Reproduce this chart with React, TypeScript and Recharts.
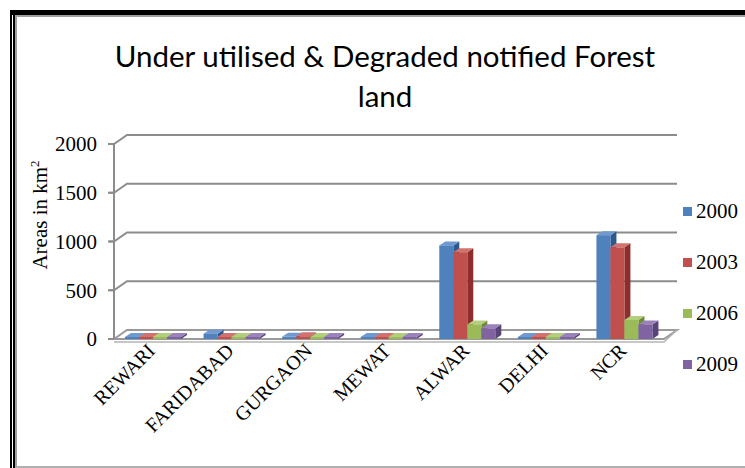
import { Bar, BarChart, CartesianGrid, XAxis, YAxis } from "recharts";

const districts = ["REWARI", "FARIDABAD", "GURGAON", "MEWAT", "ALWAR", "DELHI", "NCR"];
const years = ["2000", "2003", "2006", "2009"];
const y2000 = [6, 55, 22, 0, 960, 10, 1065];
const y2003 = [6, 8, 28, 0, 890, 10, 940];
const y2006 = [5, 5, 10, 18, 150, 6, 195];
const y2009 = [5, 5, 8, 18, 110, 5, 150];
const yTicks = [0, 500, 1000, 1500, 2000];

const COLORS = ["#4F81BD", "#C0504D", "#9BBB59", "#8064A2"];
const SIDE = ["#2C5A8F", "#8C2E2B", "#6E8C36", "#574478"];
const TOP = ["#6F99CF", "#D2726F", "#B3CE7C", "#9A82BA"];

const data = districts.map((d, i) => ({
  name: d,
  "2000": y2000[i],
  "2003": y2003[i],
  "2006": y2006[i],
  "2009": y2009[i],
}));

const SERIF = "'Liberation Serif', 'Times New Roman', serif";
const DX = 6;
const DY = -4;

function Box3D(idx: number) {
  return (props: any) => {
    const { x, y, width, height } = props;
    if (width == null) return null;
    const h = Math.max(height, 2);
    const top = y + height - h;
    return (
      <g>
        <path
          d={`M${x + width},${top} L${x + width + DX},${top + DY} L${x + width + DX},${top + h + DY} L${x + width},${top + h} Z`}
          fill={SIDE[idx]}
        />
        <path
          d={`M${x},${top} L${x + DX},${top + DY} L${x + width + DX},${top + DY} L${x + width},${top} Z`}
          fill={TOP[idx]}
        />
        <rect x={x} y={top} width={width} height={h} fill={COLORS[idx]} />
      </g>
    );
  };
}

// back-wall gridlines, offset to look like the 3D chart
const WX = 13;
const WY = -9;
function GridLine(props: any) {
  const { x1, x2, y1, index } = props;
  const d = `M${x1 - 5},${y1} L${x1},${y1} L${x1 + WX},${y1 + WY} L${x2 + WX},${y1 + WY}`;
  if (y1 > 330) {
    return (
      <g key={`g-${index}`}>
        <path
          d={`M${x1},${y1} L${x1 + WX},${y1 + WY} L${x2 + WX},${y1 + WY} L${x2},${y1} Z`}
          fill="#fff"
          stroke="#9a9a9a"
          strokeWidth={2}
        />
        <path d={`M${x1},${y1 + 3} L${x2},${y1 + 3} L${x2 + WX},${y1 + WY}`} fill="none" stroke="#b5b5b5" strokeWidth={1.5} />
      </g>
    );
  }
  return <path key={`g-${index}`} d={d} fill="none" stroke="#8c8c8c" strokeWidth={2} />;
}

function XTick(props: any) {
  const { x, y, payload } = props;
  return (
    <text
      x={x + 3}
      y={y + 5}
      transform={`rotate(-45 ${x + 3} ${y + 5})`}
      textAnchor="end"
      fontFamily={SERIF}
      fontSize={20}
      fill="#000"
    >
      {payload.value}
    </text>
  );
}

export default function App() {
  return (
    <div style={{ position: "absolute", left: 0, top: 0, width: 745, height: 468, background: "#fff" }}>
      <div style={{ position: "absolute", left: 10, top: 10, width: 735, height: 5, background: "#000" }} />
      <div style={{ position: "absolute", left: 10, top: 10, width: 2, height: 458, background: "#000" }} />
      <div style={{ position: "absolute", left: 13, top: 10, width: 2, height: 458, background: "#000" }} />
      <div style={{ position: "absolute", left: 15, top: 15, width: 730, height: 2, background: "#a0a0a0" }} />
      <div style={{ position: "absolute", left: 15, top: 15, width: 2, height: 453, background: "#a0a0a0" }} />
      <div style={{ position: "absolute", left: 15, top: 466, width: 730, height: 2, background: "#b0b0b0" }} />
      <div
        style={{
          position: "absolute",
          left: 0,
          width: 770,
          top: 36,
          textAlign: "center",
          fontFamily: "Lato, 'Open Sans', sans-serif",
          fontSize: 29.5,
          lineHeight: "40px",
          color: "#000",
        }}
      >
        Under utilised &amp; Degraded notified Forest
        <br />
        land
      </div>
      <div
        style={{
          position: "absolute",
          left: 40,
          top: 215,
          transform: "translate(-50%, -50%) rotate(-90deg)",
          fontFamily: SERIF,
          fontSize: 21,
          whiteSpace: "nowrap",
        }}
      >
        Areas in km<sup style={{ fontSize: 13 }}>2</sup>
      </div>
      <div style={{ position: "absolute", left: 683, top: 186, fontFamily: SERIF, fontSize: 21, color: "#000" }}>
        {years.map((yr, i) => (
          <div key={yr} style={{ display: "flex", alignItems: "center", height: 51 }}>
            <span style={{ width: 9, height: 9, background: COLORS[i], marginRight: 4 }} />
            {yr}
          </div>
        ))}
      </div>
      <BarChart
        width={745}
        height={468}
        data={data}
        margin={{ top: 144, right: 81, left: 0, bottom: 0 }}
        barCategoryGap="14%"
        barGap={0}
        style={{ position: "absolute", left: 0, top: 0 }}
      >
        <CartesianGrid vertical={false} horizontal={(p: any) => <GridLine {...p} />} />
        <XAxis
          dataKey="name"
          height={129}
          interval={0}
          tick={<XTick />}
          axisLine={false}
          tickLine={false}
        />
        <YAxis
          width={114}
          domain={[0, 2000]}
          ticks={yTicks}
          interval={0}
          tick={{ fontFamily: SERIF, fontSize: 21, fill: "#000" }}
          tickSize={6}
          tickMargin={11}
          axisLine={{ stroke: "#8c8c8c", strokeWidth: 2 }}
          tickLine={{ stroke: "#8c8c8c", strokeWidth: 2 }}
        />
        {years.map((yr, i) => (
          <Bar key={yr} dataKey={yr} isAnimationActive={false} shape={Box3D(i)} />
        ))}
      </BarChart>
    </div>
  );
}
